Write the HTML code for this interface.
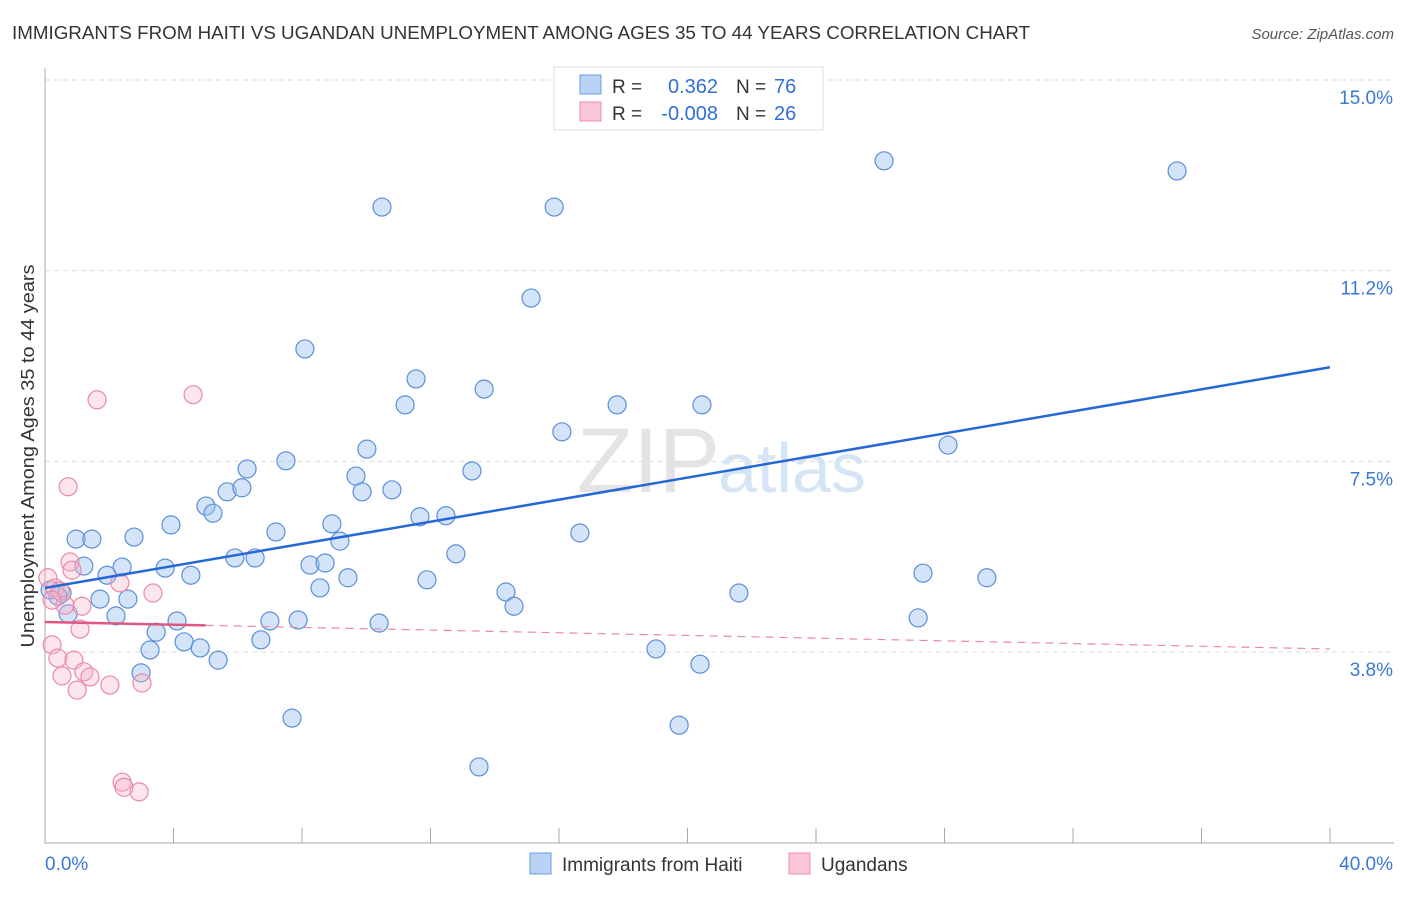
<!DOCTYPE html>
<html><head><meta charset="utf-8"><style>
body{margin:0;background:#fff;font-family:"Liberation Sans",sans-serif;}
svg text{font-family:"Liberation Sans",sans-serif;}
</style></head><body>
<svg width="1406" height="892" xmlns="http://www.w3.org/2000/svg">
<text x="12" y="39" font-size="18" fill="#333" textLength="1018" lengthAdjust="spacingAndGlyphs">IMMIGRANTS FROM HAITI VS UGANDAN UNEMPLOYMENT AMONG AGES 35 TO 44 YEARS CORRELATION CHART</text>
<text x="1394" y="39" font-size="15" fill="#555" text-anchor="end" font-style="italic">Source: ZipAtlas.com</text>
<text x="720" y="492" font-size="92" fill="#e4e4e4" text-anchor="end" font-family="Liberation Serif">ZIP</text>
<text x="718" y="492" font-size="70" fill="#d6e5f5">atlas</text>
<g id="grid"></g>
<g id="axes"></g>
<g id="pts"></g>
<g id="trend"></g>
<text x="34" y="456" font-size="18" fill="#333" text-anchor="middle" textLength="383" lengthAdjust="spacingAndGlyphs" transform="rotate(-90 34 456)">Unemployment Among Ages 35 to 44 years</text>
<g>
<rect x="554" y="67" width="269" height="63" fill="#fff" stroke="#ddd"/>
<rect x="580" y="75" width="21" height="19" fill="#b8d3f5" stroke="#6a9ee0"/>
<rect x="580" y="102" width="21" height="19" fill="#fbc6d6" stroke="#ec8fab"/>
<text x="612" y="93" font-size="19" fill="#333">R =</text><text x="718" y="93" font-size="20" fill="#2f6fd6" text-anchor="end">0.362</text>
<text x="736" y="93" font-size="19" fill="#333">N =</text><text x="774" y="93" font-size="20" fill="#2f6fd6">76</text>
<text x="612" y="120" font-size="19" fill="#333">R =</text><text x="718" y="120" font-size="20" fill="#2f6fd6" text-anchor="end">-0.008</text>
<text x="736" y="120" font-size="19" fill="#333">N =</text><text x="774" y="120" font-size="20" fill="#2f6fd6">26</text>
</g>
<g>
<rect x="530" y="853" width="21" height="21" fill="#b8d3f5" stroke="#6a9ee0"/>
<text x="562" y="871" font-size="19" fill="#333">Immigrants from Haiti</text>
<rect x="789" y="853" width="21" height="21" fill="#fbc6d6" stroke="#ec8fab"/>
<text x="821" y="871" font-size="19" fill="#333">Ugandans</text>
</g>
</svg>
<script>
const haitiX=[26.12,35.24,10.49,15.85,15.13,8.09,11.55,13.67,11.21,17.81,20.45,16.09,10.02,28.11,6.29,7.50,13.29,9.68,5.67,6.13,9.87,10.80,5.01,5.23,11.67,12.48,3.92,8.93,7.19,16.65,0.97,1.46,2.77,9.18,12.79,5.91,6.54,8.25,8.72,1.21,2.40,3.74,4.54,1.93,9.43,11.89,27.33,29.32,8.56,14.35,21.60,0.53,0.40,1.71,2.58,14.60,0.72,2.21,4.11,7.00,7.88,10.40,27.18,3.46,4.33,6.72,4.83,3.27,19.02,5.39,20.39,2.99,7.69,19.74,13.51,0.16];
const haitiY=[13.41,13.21,12.50,12.50,10.71,9.71,9.12,8.92,8.61,8.61,8.61,8.08,7.74,7.82,7.35,7.51,7.31,7.21,6.90,6.98,6.90,6.94,6.62,6.48,6.41,6.43,6.25,6.27,6.11,6.09,5.97,5.97,6.01,5.93,5.68,5.60,5.60,5.46,5.50,5.44,5.42,5.40,5.26,5.26,5.21,5.17,5.30,5.21,5.01,4.93,4.91,4.91,4.85,4.79,4.79,4.65,4.50,4.46,4.36,4.36,4.38,4.32,4.42,4.14,3.95,3.99,3.83,3.79,3.81,3.59,3.51,3.34,2.45,2.31,1.49,4.97];
const ugX=[0.09,0.31,0.47,0.78,0.84,2.33,1.15,0.62,1.62,4.61,0.72,3.36,0.22,1.09,0.40,0.90,1.21,1.40,0.53,2.02,3.02,1.00,2.40,2.46,2.93,0.22];
const ugY=[5.21,5.01,4.95,5.52,5.36,5.11,4.65,4.67,8.71,8.81,7.00,4.91,3.89,4.20,3.63,3.59,3.36,3.26,3.28,3.10,3.14,3.00,1.19,1.09,1.00,4.77];
const yTicks=[3.75,7.5,11.25,15];
const yTickLabels=["3.8%","7.5%","11.2%","15.0%"];
const xTickCount=10;
const haitiTrend=[5.01,9.35];
const ugTrend=[4.34,3.81];
const ugSolidEnd=5;

const NS="http://www.w3.org/2000/svg";
const X=v=>45+v/40*1285;
const Y=v=>652-(v-3.75)*50.85;
function mk(parent,tag,attrs){const e=document.createElementNS(NS,tag);for(const k in attrs)e.setAttribute(k,attrs[k]);document.getElementById(parent).appendChild(e);return e;}

yTicks.forEach((t,i)=>{
  const l=mk('grid','line',{x1:45,x2:1394,y1:Y(t),y2:Y(t),stroke:'#ddd','stroke-dasharray':'5,4'});
  
  
  const tx=mk('grid','text',{x:1393,y:Y(t)+24,'font-size':19,fill:'#3a78d4','text-anchor':'end'});
  tx.textContent=yTickLabels[i];
  
  
});
const ax=mk('axes','line',{x1:45,x2:45,y1:68,y2:843,stroke:'#aaa'});


const bx=mk('axes','line',{x1:45,x2:1394,y1:843,y2:843,stroke:'#aaa'});


for(let i=1;i<=xTickCount;i++){
  const t=mk('axes','line',{x1:X(i*4),x2:X(i*4),y1:828,y2:843,stroke:'#aaa'});
  
  
}
const l0=mk('axes','text',{x:45,y:870,'font-size':19,fill:'#3a78d4'});l0.textContent='0.0%';


const l1=mk('axes','text',{x:1393,y:870,'font-size':19,fill:'#3a78d4','text-anchor':'end'});l1.textContent='40.0%';



haitiX.forEach((v,i)=>{
  const c=mk('pts','circle',{cx:X(v),cy:Y(haitiY[i]),r:9,fill:'rgba(160,195,240,0.45)',stroke:'#5b8fd8','stroke-width':1.2});
  
  
});
ugX.forEach((v,i)=>{
  const c=mk('pts','circle',{cx:X(v),cy:Y(ugY[i]),r:9,fill:'rgba(248,180,200,0.35)',stroke:'#ea8aa8','stroke-width':1.2});
  
  
});
const ht=mk('trend','line',{x1:X(0),y1:Y(haitiTrend[0]),x2:X(40),y2:Y(haitiTrend[1]),stroke:'#2468d8','stroke-width':2.5});


const uy=v=>ugTrend[0]+(ugTrend[1]-ugTrend[0])*v/40;
const ud=mk('trend','line',{x1:X(ugSolidEnd),y1:Y(uy(ugSolidEnd)),x2:X(40),y2:Y(ugTrend[1]),stroke:'#ea8aa8','stroke-width':1.2,'stroke-dasharray':'8,6'});


const us=mk('trend','line',{x1:X(0),y1:Y(ugTrend[0]),x2:X(ugSolidEnd),y2:Y(uy(ugSolidEnd)),stroke:'#e0577f','stroke-width':2.5});


</script>
</body></html>
